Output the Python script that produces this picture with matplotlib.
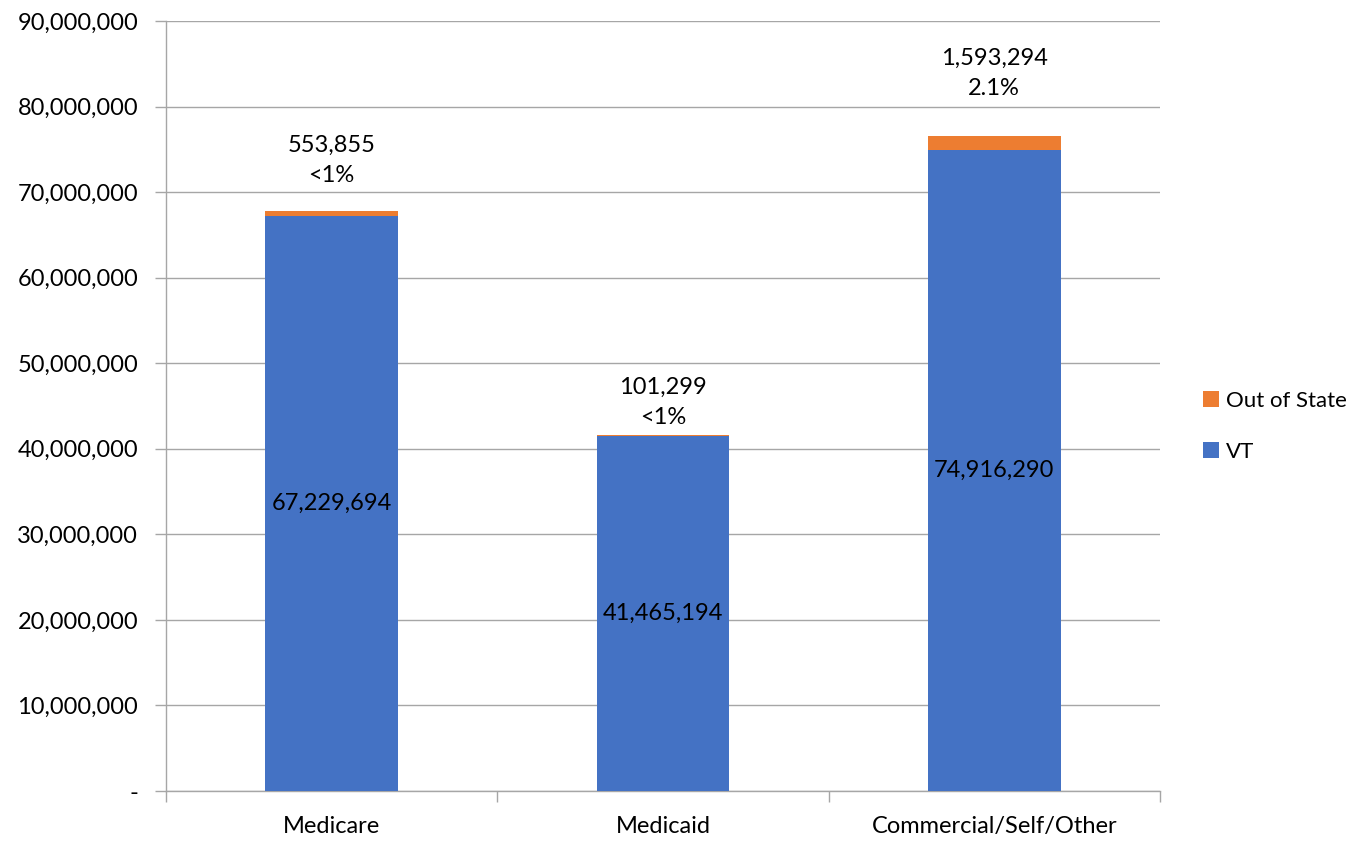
import numpy as np
import matplotlib.pyplot as plt
from matplotlib.ticker import FuncFormatter, FixedLocator

plt.rcParams['font.family'] = ['Lato', 'DejaVu Sans']

categories = ['Medicare', 'Medicaid', 'Commercial/Self/Other']
vt = [67229694, 41465194, 74916290]
out_of_state = [553855, 101299, 1593294]
oos_pct = ['<1%', '<1%', '2.1%']

blue = '#4472C4'
orange = '#ED7D31'
grid = '#A6A6A6'
fs = 17

fig = plt.figure(figsize=(13.63, 8.5), dpi=100)
ax = fig.add_axes([0.1218, 0.0694, 0.851 - 0.1218, 0.9753 - 0.0694])

x = np.arange(len(categories))
b1 = ax.bar(x, vt, width=0.4, color=blue, label='VT', zorder=3)
b2 = ax.bar(x, out_of_state, width=0.4, bottom=vt, color=orange, label='Out of State', zorder=3)

ax.set_xlim(-0.5, len(categories) - 0.5)
ax.set_ylim(0, 90000000)
ax.set_yticks(np.arange(0, 90000001, 10000000))
ax.yaxis.set_major_formatter(FuncFormatter(lambda v, p: '-' if v == 0 else f'{int(v):,}'))
ax.grid(axis='y', color=grid, linewidth=1, zorder=0)

ax.set_xticks(x)
ax.set_xticklabels(categories)
ax.xaxis.set_minor_locator(FixedLocator(np.arange(-0.5, len(categories), 1.0)))
ax.tick_params(axis='x', which='major', length=0, pad=18, labelsize=fs)
ax.tick_params(axis='x', which='minor', length=8, color=grid, width=1)
ax.tick_params(axis='y', length=8, color=grid, width=1, labelsize=fs, pad=12)

for s in ['top', 'right']:
    ax.spines[s].set_visible(False)
for s in ['left', 'bottom']:
    ax.spines[s].set_color(grid)
    ax.spines[s].set_linewidth(1)

# VT labels centred in bars
for i in range(len(categories)):
    ax.text(x[i], vt[i] / 2, f'{vt[i]:,}', ha='center', va='center', fontsize=fs, zorder=4)

# out of state labels above bars
offsets_px = [51, 33, 63]
for i in range(len(categories)):
    top = vt[i] + out_of_state[i]
    ax.annotate(f'{out_of_state[i]:,}\n{oos_pct[i]}', xy=(x[i], top),
                xytext=(0, offsets_px[i] * 0.72), textcoords='offset points',
                ha='center', va='center', fontsize=fs, linespacing=1.55)

leg = fig.legend(handles=[b2, b1], labels=['Out of State', 'VT'],
                 loc='center left', bbox_to_anchor=(0.868, 0.4985), frameon=False,
                 fontsize=16, handlelength=0.7, handleheight=0.7, handletextpad=0.35,
                 labelspacing=1.4)

fig.savefig('out.png', dpi=100)
